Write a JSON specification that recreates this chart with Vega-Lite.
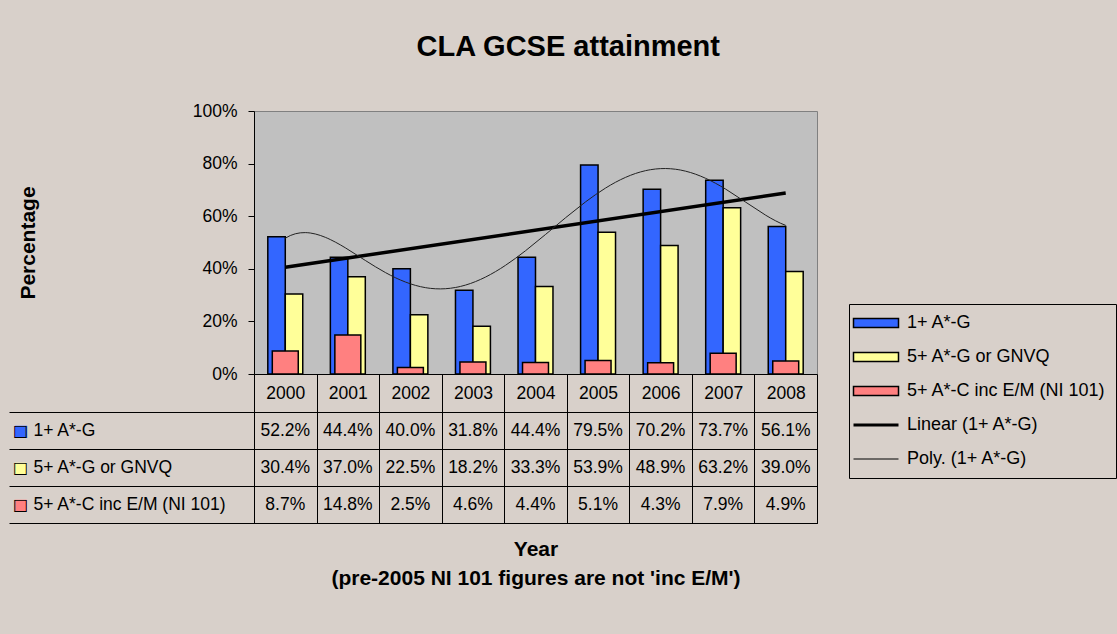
{
  "$schema": "https://vega.github.io/schema/vega-lite/v6.json",
  "background": "#D8D0CA",
  "padding": {"left": 8, "top": 32, "right": 0, "bottom": 60},
  "title": {"text": "CLA GCSE attainment", "fontSize": 29, "font": "Liberation Sans", "fontWeight": "bold", "color": "black", "anchor": "middle", "offset": 40, "dx": 6},
  "data": {"values": [
    {"year": 2000, "series": "1+ A*-G", "v": 0.522},
    {"year": 2001, "series": "1+ A*-G", "v": 0.444},
    {"year": 2002, "series": "1+ A*-G", "v": 0.400},
    {"year": 2003, "series": "1+ A*-G", "v": 0.318},
    {"year": 2004, "series": "1+ A*-G", "v": 0.444},
    {"year": 2005, "series": "1+ A*-G", "v": 0.795},
    {"year": 2006, "series": "1+ A*-G", "v": 0.702},
    {"year": 2007, "series": "1+ A*-G", "v": 0.737},
    {"year": 2008, "series": "1+ A*-G", "v": 0.561},
    {"year": 2000, "series": "5+ A*-G or GNVQ", "v": 0.304},
    {"year": 2001, "series": "5+ A*-G or GNVQ", "v": 0.370},
    {"year": 2002, "series": "5+ A*-G or GNVQ", "v": 0.225},
    {"year": 2003, "series": "5+ A*-G or GNVQ", "v": 0.182},
    {"year": 2004, "series": "5+ A*-G or GNVQ", "v": 0.333},
    {"year": 2005, "series": "5+ A*-G or GNVQ", "v": 0.539},
    {"year": 2006, "series": "5+ A*-G or GNVQ", "v": 0.489},
    {"year": 2007, "series": "5+ A*-G or GNVQ", "v": 0.632},
    {"year": 2008, "series": "5+ A*-G or GNVQ", "v": 0.390},
    {"year": 2000, "series": "5+ A*-C inc E/M (NI 101)", "v": 0.087},
    {"year": 2001, "series": "5+ A*-C inc E/M (NI 101)", "v": 0.148},
    {"year": 2002, "series": "5+ A*-C inc E/M (NI 101)", "v": 0.025},
    {"year": 2003, "series": "5+ A*-C inc E/M (NI 101)", "v": 0.046},
    {"year": 2004, "series": "5+ A*-C inc E/M (NI 101)", "v": 0.044},
    {"year": 2005, "series": "5+ A*-C inc E/M (NI 101)", "v": 0.051},
    {"year": 2006, "series": "5+ A*-C inc E/M (NI 101)", "v": 0.043},
    {"year": 2007, "series": "5+ A*-C inc E/M (NI 101)", "v": 0.079},
    {"year": 2008, "series": "5+ A*-C inc E/M (NI 101)", "v": 0.049}
  ]},
  "bounds": "flush",
  "spacing": 38,
  "vconcat": [
    {
      "width": 563,
      "height": 263,
      "view": {"fill": "#C0C0C0", "stroke": "#808080", "strokeWidth": 1},
      "layer": [
        {
          "layer": [
            {
              "transform": [{"filter": "datum.series != '5+ A*-C inc E/M (NI 101)'"}],
              "mark": {"type": "bar", "stroke": "black", "strokeWidth": 1.5},
              "encoding": {
                "x": {"field": "year", "type": "ordinal", "scale": {"paddingInner": 0, "paddingOuter": 0},
                  "axis": {"title": null, "labelAngle": 0, "tickBand": "extent", "tickSize": 38, "tickColor": "black", "domainColor": "black", "labelPadding": -28, "labelFontSize": 17.5, "labelColor": "black", "grid": false}},
                "xOffset": {"field": "series", "type": "nominal", "scale": {"domain": ["1+ A*-G", "5+ A*-G or GNVQ"], "paddingInner": 0, "paddingOuter": 0.79}},
                "y": {"field": "v", "type": "quantitative", "scale": {"domain": [0, 1], "nice": false},
                  "axis": {"values": [0, 0.2, 0.4, 0.6, 0.8, 1], "format": ".0%", "grid": false, "tickSize": 6, "labelPadding": 11, "labelFontSize": 17.5, "labelColor": "black", "domainColor": "black", "tickColor": "black", "title": "Percentage", "titleFontSize": 21, "titleFontWeight": "bold", "titleColor": "black", "titleX": -226, "titleBaseline": "middle", "titleAngle": -90}},
                "color": {"field": "series", "type": "nominal",
                  "scale": {"domain": ["1+ A*-G", "5+ A*-G or GNVQ", "5+ A*-C inc E/M (NI 101)", "Linear (1+ A*-G)", "Poly. (1+ A*-G)"], "range": ["#3366FF", "#FFFF99", "#FF8080", "#000000", "#333333"]},
                  "legend": {"orient": "none", "legendX": 595, "legendY": 193, "title": null, "padding": 10, "strokeColor": "black", "labelFontSize": 18, "labelFont": "Liberation Sans", "labelColor": "black", "rowPadding": 16, "symbolSize": 100, "symbolStrokeColor": "black", "symbolStrokeWidth": 1.5, "symbolOffset": 8, "labelOffset": 22, "labelLimit": 0,
                    "encode": {"symbols": {"update": {
                      "shape": {"signal": "indexof(['Linear (1+ A*-G)', 'Poly. (1+ A*-G)'], datum.label) >= 0 ? 'M-4.5,0H4.5' : 'M-4.5,-0.9H4.5V0.9H-4.5Z'"},
                      "strokeWidth": {"signal": "datum.label == 'Linear (1+ A*-G)' ? 3 : (datum.label == 'Poly. (1+ A*-G)' ? 1 : 1.5)"}
                    }}}}
                }
              }
            },
            {
              "transform": [{"filter": "datum.series == '5+ A*-C inc E/M (NI 101)'"}],
              "mark": {"type": "bar", "stroke": "black", "strokeWidth": 1.5, "width": {"band": 0.415}},
              "encoding": {
                "x": {"field": "year", "type": "ordinal"},
                "y": {"field": "v", "type": "quantitative"},
                "color": {"field": "series", "type": "nominal"}
              }
            }
          ]
        },
        {
          "layer": [
            {
              "transform": [{"filter": "datum.series == '1+ A*-G'"}, {"regression": "v", "on": "year", "method": "linear"}],
              "mark": {"type": "line", "color": "black", "strokeWidth": 3.5},
              "encoding": {
                "x": {"field": "year", "type": "quantitative", "scale": {"domain": [1999.5, 2008.5], "nice": false, "zero": false}, "axis": null},
                "y": {"field": "v", "type": "quantitative"}
              }
            },
            {
              "transform": [{"filter": "datum.series == '1+ A*-G'"}, {"regression": "v", "on": "year", "method": "poly", "order": 5}],
              "mark": {"type": "line", "color": "#222222", "strokeWidth": 1},
              "encoding": {
                "x": {"field": "year", "type": "quantitative"},
                "y": {"field": "v", "type": "quantitative"}
              }
            }
          ]
        }
      ],
      "resolve": {"scale": {"x": "independent"}}
    },
    {
      "width": 563,
      "height": 111,
      "view": {"stroke": "black", "strokeWidth": 1},
      "layer": [
        {
          "mark": {"type": "text", "fontSize": 17.5, "font": "Liberation Sans", "color": "black", "align": "center", "baseline": "middle"},
          "encoding": {
            "x": {"field": "year", "type": "ordinal", "scale": {"paddingInner": 0, "paddingOuter": 0},
              "axis": {"orient": "bottom", "labels": false, "ticks": false, "domain": false, "grid": true, "tickBand": "extent", "gridColor": "black", "gridOpacity": 1, "gridWidth": 1,
                "title": ["Year", "(pre-2005 NI 101 figures are not 'inc E/M')"], "titleFontSize": 21, "titleFontWeight": "bold", "titleColor": "black", "titlePadding": 15, "titleLineHeight": 29}},
            "y": {"field": "series", "type": "nominal", "scale": {"domain": ["1+ A*-G", "5+ A*-G or GNVQ", "5+ A*-C inc E/M (NI 101)"], "paddingInner": 0, "paddingOuter": 0},
              "axis": {"orient": "left", "title": null, "tickBand": "extent", "tickSize": 245, "tickColor": "black", "grid": true, "gridColor": "black", "gridOpacity": 1, "domain": true, "domainColor": "black", "labelAlign": "left", "labelPadding": -24, "labelFontSize": 17.5, "labelColor": "black", "labelLimit": 0}},
            "text": {"field": "v", "type": "quantitative", "format": ".1%"}
          }
        },
        {
          "mark": {"type": "point", "opacity": 0},
          "encoding": {
            "x": {"field": "year", "type": "ordinal"},
            "y": {"field": "series", "type": "nominal",
              "axis": {"orient": "left", "title": null, "ticks": false, "grid": false, "domain": false, "labelExpr": "'■'", "labelFont": "DejaVu Sans", "labelFontSize": 16, "labelAlign": "center", "labelPadding": 234,
                "labelColor": {"condition": [{"test": "datum.value == '1+ A*-G'", "value": "#3366FF"}, {"test": "datum.value == '5+ A*-G or GNVQ'", "value": "#FFFF99"}], "value": "#FF8080"}}}
          }
        },
        {
          "mark": {"type": "point", "opacity": 0},
          "encoding": {
            "x": {"field": "year", "type": "ordinal"},
            "y": {"field": "series", "type": "nominal",
              "axis": {"orient": "left", "title": null, "ticks": false, "grid": false, "domain": false, "labelExpr": "'□'", "labelFont": "DejaVu Sans", "labelFontSize": 16, "labelAlign": "center", "labelPadding": 234, "labelColor": "black"}}
          }
        }
      ],
      "resolve": {"axis": {"y": "independent"}}
    }
  ],
  "config": {
    "font": "Liberation Sans",
    "axis": {"labelFont": "Liberation Sans", "titleFont": "Liberation Sans"}
  }
}
